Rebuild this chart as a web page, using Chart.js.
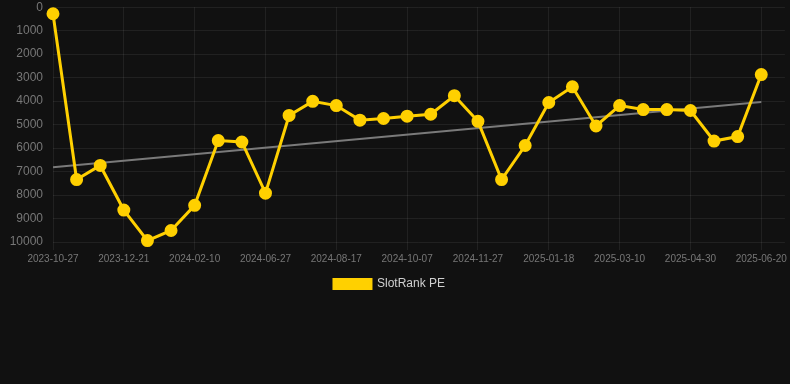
<!DOCTYPE html>
<html>
<head>
<meta charset="utf-8">
<script src="https://cdn.jsdelivr.net/npm/chart.js@4/dist/chart.umd.min.js"></script>
<style>
  html, body { margin: 0; padding: 0; background: #111111; overflow: hidden; }
  #wrap { width: 790px; height: 300px; position: relative; }
</style>
</head>
<body>
<div id="wrap"><canvas id="grafico"></canvas></div>
<script>
// fechas (la última queda sin dato, sólo ocupa espacio a la derecha)
const fechas = [
  '2023-10-27', '2023-11-14', '2023-12-03', '2023-12-21', '2024-01-08', '2024-01-25',
  '2024-02-10', '2024-03-27', '2024-05-12', '2024-06-27', '2024-07-14', '2024-07-31',
  '2024-08-17', '2024-09-03', '2024-09-20', '2024-10-07', '2024-10-24', '2024-11-10',
  '2024-11-27', '2024-12-14', '2024-12-31', '2025-01-18', '2025-02-04', '2025-02-21',
  '2025-03-10', '2025-03-27', '2025-04-13', '2025-04-30', '2025-05-17', '2025-06-03',
  '2025-06-20', '2025-07-07'
];

const ranking = [
  280, 7340, 6740, 8640, 9940, 9510, 8440, 5680, 5740, 7920,
  4610, 4010, 4190, 4810, 4740, 4640, 4560, 3770, 4860, 7340,
  5890, 4060, 3390, 5060, 4190, 4360, 4360, 4400, 5700, 5510,
  2870
];

// extremos de la línea de tendencia
const tendenciaInicio = 6820;
const tendenciaFin = 4040;

const tendencia = ranking.map((v, i) => {
  if (i === 0) return tendenciaInicio;
  if (i === ranking.length - 1) return tendenciaFin;
  return null;
});

const amarillo = '#ffd000';
const gris = '#7a7a7a';
const rejilla = 'rgba(255,255,255,0.07)';

const ctx = document.getElementById('grafico').getContext('2d');
new Chart(ctx, {
  type: 'line',
  data: {
    labels: fechas,
    datasets: [
      {
        label: 'SlotRank PE',
        data: ranking,
        borderColor: amarillo,
        backgroundColor: amarillo,
        borderWidth: 3,
        pointRadius: 5,
        pointHoverRadius: 6,
        pointBackgroundColor: amarillo,
        pointBorderColor: amarillo,
        tension: 0,
        fill: false,
        clip: 10
      },
      {
        label: 'Tendencia',
        data: tendencia,
        borderColor: gris,
        borderWidth: 2,
        pointRadius: 0,
        spanGaps: true,
        fill: false
      }
    ]
  },
  options: {
    responsive: true,
    maintainAspectRatio: false,
    animation: false,
    layout: { autoPadding: false, padding: { left: -6, right: 5, top: 0, bottom: 0 } },
    plugins: {
      legend: {
        position: 'bottom',
        labels: {
          boxWidth: 37,
          boxHeight: 9,
          color: '#d0d0d0',
          font: { family: 'Liberation Sans, Arial, sans-serif', size: 12 },
          filter: item => item.datasetIndex === 0
        }
      },
      tooltip: { enabled: false }
    },
    scales: {
      x: {
        grid: { color: rejilla, tickColor: rejilla },
        border: { display: false },
        ticks: {
          autoSkip: false,
          maxRotation: 0,
          color: '#777777',
          font: { family: 'Liberation Sans, Arial, sans-serif', size: 10 },
          callback: function (valor, i) {
            if (i % 3 !== 0 || i >= ranking.length) return null;
            return this.getLabelForValue(valor);
          }
        }
      },
      y: {
        reverse: true,
        min: 0,
        max: 10000,
        afterFit: eje => { eje.width = 59; },
        grid: { color: rejilla, tickColor: 'transparent', tickLength: 10 },
        border: { display: false },
        ticks: {
          stepSize: 1000,
          padding: 0,
          color: '#777777',
          font: { family: 'Liberation Sans, Arial, sans-serif', size: 12 },
          callback: v => String(v)
        }
      }
    }
  }
});
</script>
</body>
</html>
